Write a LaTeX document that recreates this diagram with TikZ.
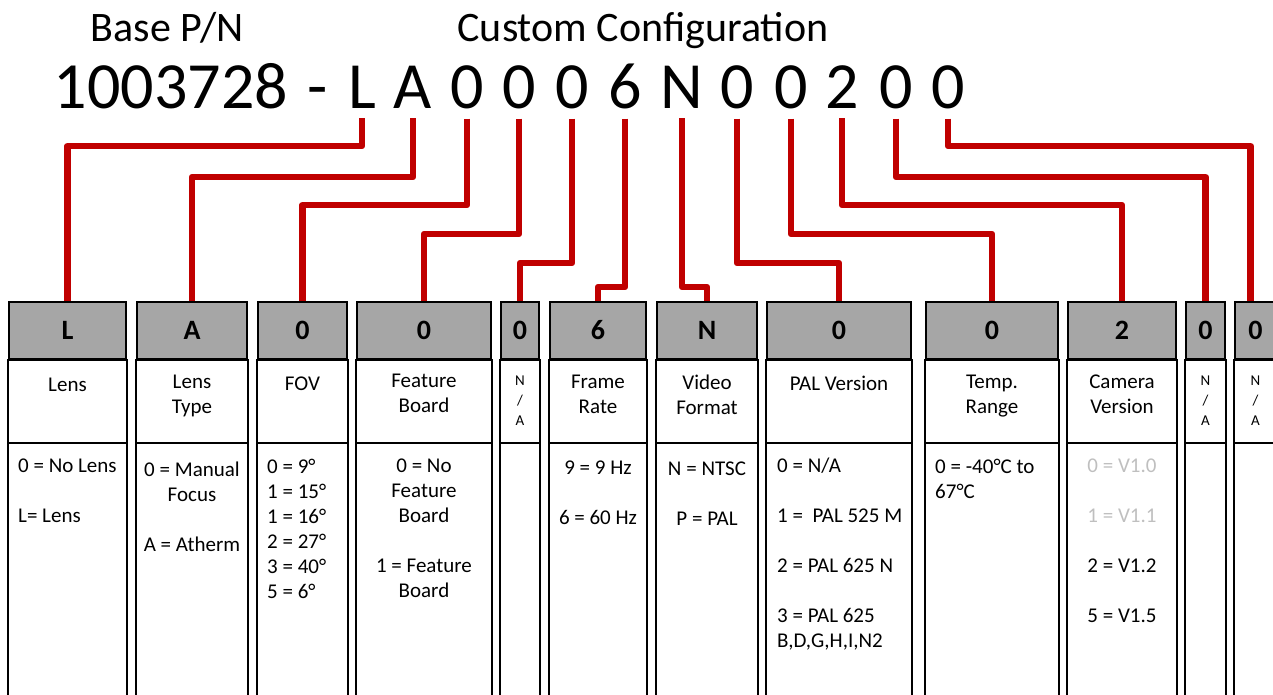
\documentclass[tikz,border=0pt]{standalone}
\usepackage{fontspec}
\setmainfont{Carlito}
\usetikzlibrary{backgrounds}
\definecolor{WireRed}{RGB}{192,0,0}
\definecolor{HeadGray}{RGB}{166,166,166}
\definecolor{FadeGray}{RGB}{191,191,191}
\tikzset{
	wire/.style={line width=6.5pt, WireRed, line join=round},
	frame/.style={line width=2.3pt, black},
	hdr/.style={draw=black, line width=2.3pt, fill=HeadGray, minimum height=57pt, inner sep=0pt, font=\fontsize{28}{30}\selectfont\bfseries},
	toplabel/.style={anchor=base, inner sep=0pt, font=\fontsize{42}{46}\selectfont},
	pn/.style={anchor=base, inner sep=0pt, font=\fontsize{66}{70}\selectfont},
	ttl/.style={anchor=north, inner sep=0pt, align=center, font=\fontsize{21}{25}\selectfont, execute at begin node={\rule{0pt}{16pt}}},
	lst/.style={anchor=north west, inner sep=0pt, align=left, font=\fontsize{21}{25}\selectfont, execute at begin node={\rule{0pt}{16pt}}},
	na/.style={anchor=north, inner sep=0pt, align=center, font=\fontsize{15}{20}\selectfont, execute at begin node={\rule{0pt}{11pt}}}
}

\begin{document}
\begin{tikzpicture}[x=1pt, y=-1pt]
		\useasboundingbox (0,0) rectangle (1273,694);
		\clip (0,0) rectangle (1273,694);
		\coordinate (mid) at (0,443);
		\coordinate (bot) at (0,710);
		% part number
		\node[toplabel] (base) at (167,41) {Base P/N};
		\node[toplabel] (custom) at (643,41) {Custom Configuration};
		\node[pn] (pnum) at (171,108) {1003728};
		\node[pn] (dash) at (318,108) {-};
		\node[pn] (c1) at (362,108) {L};
		\node[pn] (c2) at (413,108) {A};
		\node[pn] (c3) at (467,108) {0};
		\node[pn] (c4) at (519,108) {0};
		\node[pn] (c5) at (572,108) {0};
		\node[pn] (c6) at (625,108) {6};
		\node[pn] (c7) at (682,108) {N};
		\node[pn] (c8) at (737,108) {0};
		\node[pn] (c9) at (791,108) {0};
		\node[pn] (c10) at (842,108) {2};
		\node[pn] (c11) at (896,108) {0};
		\node[pn] (c12) at (948,108) {0};
		% headers
		\node[hdr, minimum width=117pt] (h1) at (67.5,330.5) {L};
		\node[hdr, minimum width=110pt] (h2) at (192,330.5) {A};
		\node[hdr, minimum width=89pt] (h3) at (302.5,330.5) {0};
		\node[hdr, minimum width=134pt] (h4) at (424,330.5) {0};
		\node[hdr, minimum width=38pt] (h5) at (520,330.5) {0};
		\node[hdr, minimum width=96pt] (h6) at (598,330.5) {6};
		\node[hdr, minimum width=100pt] (h7) at (707,330.5) {N};
		\node[hdr, minimum width=144pt] (h8) at (839,330.5) {0};
		\node[hdr, minimum width=132pt] (h9) at (992,330.5) {0};
		\node[hdr, minimum width=108pt] (h10) at (1122,330.5) {2};
		\node[hdr, minimum width=39pt] (h11) at (1205.5,330.5) {0};
		\node[hdr, minimum width=41pt] (h12) at (1255.5,330.5) {0};
		% columns below the headers
		\draw[frame] (h1.south west) rectangle (h1.east |- bot);
		\draw[frame] (h2.south west) rectangle (h2.east |- bot);
		\draw[frame] (h3.south west) rectangle (h3.east |- bot);
		\draw[frame] (h4.south west) rectangle (h4.east |- bot);
		\draw[frame] (h5.south west) rectangle (h5.east |- bot);
		\draw[frame] (h6.south west) rectangle (h6.east |- bot);
		\draw[frame] (h7.south west) rectangle (h7.east |- bot);
		\draw[frame] (h8.south west) rectangle (h8.east |- bot);
		\draw[frame] (h9.south west) rectangle (h9.east |- bot);
		\draw[frame] (h10.south west) rectangle (h10.east |- bot);
		\draw[frame] (h11.south west) rectangle (h11.east |- bot);
		\draw[frame] (h12.south west) rectangle (h12.east |- bot);
		\draw[frame] (h1.west |- mid) -- (h1.east |- mid);
		\draw[frame] (h2.west |- mid) -- (h2.east |- mid);
		\draw[frame] (h3.west |- mid) -- (h3.east |- mid);
		\draw[frame] (h4.west |- mid) -- (h4.east |- mid);
		\draw[frame] (h5.west |- mid) -- (h5.east |- mid);
		\draw[frame] (h6.west |- mid) -- (h6.east |- mid);
		\draw[frame] (h7.west |- mid) -- (h7.east |- mid);
		\draw[frame] (h8.west |- mid) -- (h8.east |- mid);
		\draw[frame] (h9.west |- mid) -- (h9.east |- mid);
		\draw[frame] (h10.west |- mid) -- (h10.east |- mid);
		\draw[frame] (h11.west |- mid) -- (h11.east |- mid);
		\draw[frame] (h12.west |- mid) -- (h12.east |- mid);
		% titles
		\node[ttl] (t1) at (67.5,375) {Lens};
		\node[ttl] (t2) at (192,375) {Lens\\Type};
		\node[ttl] (t3) at (302.5,374) {FOV};
		\node[ttl] (t4) at (424,374) {Feature\\Board};
		\node[na] (t5) at (520,376) {N\\/\\A};
		\node[ttl] (t6) at (598,375) {Frame\\Rate};
		\node[ttl] (t7) at (707,375) {Video\\Format};
		\node[ttl] (t8) at (839,374) {PAL Version};
		\node[ttl] (t9) at (992,375) {Temp.\\Range};
		\node[ttl] (t10) at (1122,375) {Camera\\Version};
		\node[na] (t11) at (1205.5,376) {N\\/\\A};
		\node[na] (t12) at (1255.5,376) {N\\/\\A};
		% codes
		\node[lst] (b1) at (18,459) {0 = No Lens\\[25pt]L= Lens};
		\node[ttl] (b2) at (192,462) {0 = Manual\\Focus\\[25pt]A = Atherm};
		\node[lst] (b3) at (267,459) {0 = 9°\\1 = 15°\\1 = 16°\\2 = 27°\\3 = 40°\\5 = 6°};
		\node[ttl] (b4) at (424,459) {0 = No\\Feature\\Board\\[25pt]1 = Feature\\Board};
		\node[ttl] (b6) at (598,461) {9 = 9 Hz\\[25pt]6 = 60 Hz};
		\node[ttl] (b7) at (707,462) {N = NTSC\\[25pt]P = PAL};
		\node[lst] (b8) at (777,458) {0 = N/A\\[25pt]1 =~ PAL 525 M\\[25pt]2 = PAL 625 N\\[25pt]3 = PAL 625\\B,D,G,H,I,N2};
		\node[lst] (b9) at (935,459) {0 = -40°C to\\67°C};
		\node[ttl] (b10) at (1122,459) {\color{FadeGray}0 = V1.0\\[25pt]\color{FadeGray}1 = V1.1\\[25pt]2 = V1.2\\[25pt]5 = V1.5};
		% wires
		\coordinate (lv1) at (0,146);
		\coordinate (lv2) at (0,177);
		\coordinate (lv3) at (0,205);
		\coordinate (lv4) at (0,234);
		\coordinate (lv5) at (0,263);
		\coordinate (lv6) at (0,287);
		\begin{scope}[on background layer]
			\draw[wire] ([yshift=-10pt]c1.south) |- (h1.north |- lv1) -- (h1.north);
			\draw[wire] ([yshift=-10pt]c2.south) |- (h2.north |- lv2) -- (h2.north);
			\draw[wire] ([yshift=-10pt]c3.south) |- (h3.north |- lv3) -- (h3.north);
			\draw[wire] ([yshift=-10pt]c4.south) |- (h4.north |- lv4) -- (h4.north);
			\draw[wire] ([yshift=-10pt]c5.south) |- (h5.north |- lv5) -- (h5.north);
			\draw[wire] ([yshift=-10pt]c6.south) |- (h6.north |- lv6) -- (h6.north);
			\draw[wire] ([yshift=-10pt]c7.south) |- (h7.north |- lv6) -- (h7.north);
			\draw[wire] ([yshift=-10pt]c8.south) |- (h8.north |- lv5) -- (h8.north);
			\draw[wire] ([yshift=-10pt]c9.south) |- (h9.north |- lv4) -- (h9.north);
			\draw[wire] ([yshift=-10pt]c10.south) |- (h10.north |- lv3) -- (h10.north);
			\draw[wire] ([yshift=-10pt]c11.south) |- (h11.north |- lv2) -- (h11.north);
			\draw[wire] ([yshift=-10pt]c12.south) |- ([xshift=-5pt]h12.north |- lv1) -- ([xshift=-5pt]h12.north);
		\end{scope}
	\end{tikzpicture}
\end{document}
